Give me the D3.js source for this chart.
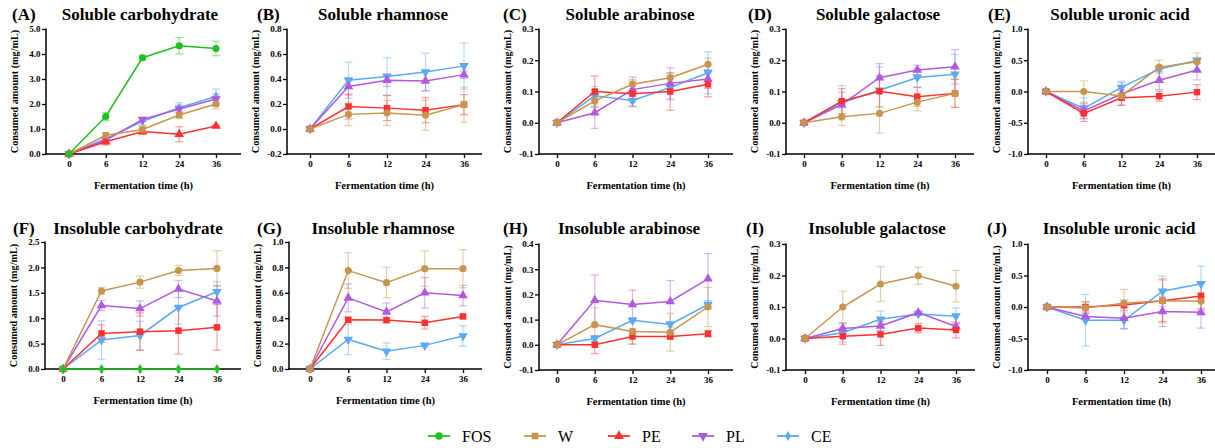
<!DOCTYPE html>
<html><head><meta charset="utf-8">
<script src="https://cdn.jsdelivr.net/npm/d3@7"></script>
<style>body{margin:0;background:#fff} svg{display:block}</style>
</head><body>
<svg id="c" width="1215" height="448"></svg>
<script>
// ---------- DATA ----------
const times = ["0","6","12","24","36"];
const seriesNames = ["FOS","W","PE","PL","CE"];
const panelLetters = ["(A)","(B)","(C)","(D)","(E)","(F)","(G)","(H)","(I)","(J)"];
const panelTitles = ["Soluble carbohydrate","Soluble rhamnose","Soluble arabinose","Soluble galactose","Soluble uronic acid",
  "Insoluble carbohydrate","Insoluble rhamnose","Insoluble arabinose","Insoluble galactose","Insoluble uronic acid"];
const yDomains = [[0,5],[-0.2,0.8],[-0.1,0.3],[-0.1,0.3],[-1,1],[0,2.5],[0,1],[-0.1,0.4],[-0.1,0.3],[-1,1]];
const yTickSteps = [1,0.2,0.1,0.1,0.5,0.5,0.2,0.1,0.1,0.5];

// (A) Soluble carbohydrate
const A_FOS = [0,1.50,3.85,4.33,4.22], A_FOS_sd = [0,0.16,0.10,0.33,0.29];
const A_W   = [0,0.75,0.98,1.56,2.00], A_W_sd   = [0,0.10,0.15,0.15,0.20];
const A_PE  = [0,0.49,0.90,0.79,1.12], A_PE_sd  = [0,0.12,0.12,0.30,0.03];
const A_PL  = [0,0.55,1.38,1.80,2.20], A_PL_sd  = [0,0.10,0.08,0.15,0.20];
const A_CE  = [0,0.61,1.31,1.85,2.30], A_CE_sd  = [0,0.10,0.15,0.20,0.30];
// (B) Soluble rhamnose
const B_W  = [0,0.117,0.128,0.110,0.195], B_W_sd  = [0,0.09,0.10,0.12,0.14];
const B_PE = [0,0.180,0.167,0.150,0.195], B_PE_sd = [0,0.10,0.10,0.10,0.08];
const B_PL = [0,0.340,0.390,0.385,0.435], B_PL_sd = [0,0.07,0.05,0.08,0.03];
const B_CE = [0,0.390,0.420,0.456,0.505], B_CE_sd = [0,0.145,0.15,0.15,0.185];
// (C) Soluble arabinose
const C_W  = [0,0.070,0.123,0.144,0.187], C_W_sd  = [0,0.02,0.015,0.015,0.02];
const C_PE = [0,0.100,0.093,0.100,0.123], C_PE_sd = [0,0.05,0.04,0.06,0.04];
const C_PL = [0,0.032,0.106,0.126,0.140], C_PL_sd = [0,0.05,0.04,0.05,0.03];
const C_CE = [0,0.086,0.071,0.113,0.160], C_CE_sd = [0,0.03,0.02,0.04,0.067];
// (D) Soluble galactose
const D_W  = [0,0.019,0.030,0.066,0.094], D_W_sd  = [0,0.028,0.063,0.028,0.045];
const D_PE = [0,0.069,0.101,0.083,0.094], D_PE_sd = [0,0.04,0.05,0.03,0.045];
const D_PL = [0,0.058,0.144,0.169,0.179], D_PL_sd = [0,0.04,0.045,0.015,0.055];
const D_CE = [0,0.064,0.104,0.145,0.155], D_CE_sd = [0,0.055,0.075,0.03,0.064];
// (E) Soluble uronic acid
const E_W  = [0,0.00,-0.07,0.39,0.475], E_W_sd  = [0,0.17,0.03,0.11,0.14];
const E_PE = [0,-0.35,-0.10,-0.075,-0.01], E_PE_sd = [0,0.13,0.12,0.08,0.12];
const E_PL = [0,-0.31,-0.04,0.18,0.345], E_PL_sd = [0,0.12,0.18,0.15,0.16];
const E_CE = [0,-0.27,0.065,0.36,0.495], E_CE_sd = [0,0.17,0.10,0.05,0.05];
// (F) Insoluble carbohydrate
const F_FOS = [0,0,0,0,0], F_FOS_sd = [0,0,0,0,0];
const F_W  = [0,1.535,1.71,1.94,1.98], F_W_sd  = [0,0.07,0.12,0.10,0.35];
const F_PE = [0,0.70,0.735,0.755,0.82], F_PE_sd = [0,0.17,0.37,0.46,0.45];
const F_PL = [0,1.25,1.19,1.575,1.34], F_PL_sd = [0,0.10,0.15,0.17,0.30];
const F_CE = [0,0.57,0.66,1.21,1.52], F_CE_sd = [0,0.38,0.28,0.33,0.20];
// (G) Insoluble rhamnose
const G_W  = [0,0.775,0.68,0.79,0.79], G_W_sd  = [0,0.14,0.12,0.14,0.15];
const G_PE = [0,0.387,0.385,0.364,0.414], G_PE_sd = [0,0.02,0.02,0.05,0.01];
const G_PL = [0,0.56,0.45,0.60,0.578], G_PL_sd = [0,0.11,0.07,0.12,0.08];
const G_CE = [0,0.233,0.14,0.186,0.26], G_CE_sd = [0,0.12,0.065,0.01,0.08];
// (H) Insoluble arabinose
const H_W  = [0,0.080,0.053,0.050,0.150], H_W_sd  = [0,0.067,0.05,0.075,0.078];
const H_PE = [0,0.000,0.033,0.033,0.044], H_PE_sd = [0,0.035,0.03,0.01,0.013];
const H_PL = [0,0.177,0.160,0.172,0.262], H_PL_sd = [0,0.10,0.057,0.083,0.10];
const H_CE = [0,0.025,0.097,0.081,0.160], H_CE_sd = [0,0.012,0.01,0.01,0.015];
// (I) Insoluble galactose
const I_W  = [0,0.100,0.173,0.199,0.166], I_W_sd  = [0,0.05,0.055,0.027,0.05];
const I_PE = [0,0.007,0.013,0.033,0.027], I_PE_sd = [0,0.025,0.035,0.015,0.025];
const I_PL = [0,0.032,0.040,0.082,0.038], I_PL_sd = [0,0.017,0.015,0.005,0.01];
const I_CE = [0,0.018,0.061,0.078,0.071], I_CE_sd = [0,0.028,0.026,0.005,0.026];
// (J) Insoluble uronic acid
const J_W  = [0,-0.015,0.06,0.10,0.09], J_W_sd  = [0,0.10,0.22,0.35,0.14];
const J_PE = [0,0.00,0.03,0.10,0.175], J_PE_sd = [0,0.08,0.08,0.33,0.20];
const J_PL = [0,-0.15,-0.18,-0.07,-0.085], J_PL_sd = [0,0.05,0.17,0.24,0.25];
const J_CE = [0,-0.21,-0.21,0.25,0.37], J_CE_sd = [0,0.41,0.13,0.24,0.28];

// ---------- STYLE / LAYOUT ----------
const FONT = '"Liberation Serif","Times New Roman",Tinos,serif';
const colors = {FOS:"#1ec21e", W:"#c8954f", PE:"#ff3030", PL:"#b05ae0", CE:"#5aaaf5"};
const legendSymbols = {FOS:d3.symbolCircle, W:d3.symbolSquare, PE:d3.symbolTriangle, PL:"tridown", CE:d3.symbolDiamond};
const panelSymbols = {FOS:d3.symbolDiamond, W:d3.symbolCircle, PE:d3.symbolSquare, PL:d3.symbolTriangle, CE:"tridown"};
// [yAxisX, firstTickX, lastTickX, xAxisEnd, top, bottom]
const boxes = [
  [46,69,216,241,29,154],[287,310,464,482,29,154],[539,557,708,733,29,154],[786,804,955,974,29,154],[1028,1046,1197,1215,29,154],
  [45,63,217,241,242,369],[289,310,463,482,242,369],[539,557,708,733,244,370],[786,805,956,975,244,370],[1028,1047,1201,1215,244,370]];
const titleCenters = [140,383,630,878,1120,138,383,629,877,1119];
const letterX = [12,257,503,748,988,13,257,503,746,987];

const panelData = [
  {FOS:[A_FOS,A_FOS_sd],W:[A_W,A_W_sd],PE:[A_PE,A_PE_sd],PL:[A_PL,A_PL_sd],CE:[A_CE,A_CE_sd]},
  {W:[B_W,B_W_sd],PE:[B_PE,B_PE_sd],PL:[B_PL,B_PL_sd],CE:[B_CE,B_CE_sd]},
  {W:[C_W,C_W_sd],PE:[C_PE,C_PE_sd],PL:[C_PL,C_PL_sd],CE:[C_CE,C_CE_sd]},
  {W:[D_W,D_W_sd],PE:[D_PE,D_PE_sd],PL:[D_PL,D_PL_sd],CE:[D_CE,D_CE_sd]},
  {W:[E_W,E_W_sd],PE:[E_PE,E_PE_sd],PL:[E_PL,E_PL_sd],CE:[E_CE,E_CE_sd]},
  {FOS:[F_FOS,F_FOS_sd],W:[F_W,F_W_sd],PE:[F_PE,F_PE_sd],PL:[F_PL,F_PL_sd],CE:[F_CE,F_CE_sd]},
  {W:[G_W,G_W_sd],PE:[G_PE,G_PE_sd],PL:[G_PL,G_PL_sd],CE:[G_CE,G_CE_sd]},
  {W:[H_W,H_W_sd],PE:[H_PE,H_PE_sd],PL:[H_PL,H_PL_sd],CE:[H_CE,H_CE_sd]},
  {W:[I_W,I_W_sd],PE:[I_PE,I_PE_sd],PL:[I_PL,I_PL_sd],CE:[I_CE,I_CE_sd]},
  {W:[J_W,J_W_sd],PE:[J_PE,J_PE_sd],PL:[J_PL,J_PL_sd],CE:[J_CE,J_CE_sd]}];

const fmt = d3.formatLocale({decimal:".",thousands:",",grouping:[3],currency:["$",""],minus:"-"}).format(".1f");
const svg = d3.select("#c");
function symPath(sym, size){
  return d3.symbol(sym==="tridown"?d3.symbolTriangle:sym, size)();
}
function symTransform(sym){ return sym==="tridown" ? " rotate(180)" : ""; }
function symSize(sym){ return sym===d3.symbolSquare?42: sym===d3.symbolCircle?40: sym===d3.symbolDiamond?30:40; }
function styleText(sel, size, bold){
  sel.style("font-family",FONT).style("font-size",size+"px").style("font-weight",bold?"bold":"normal").attr("fill","#000");
}

const drawOrder = ["CE","PL","PE","W","FOS"];

boxes.forEach((b,i)=>{
  const [ax, x0, x1, xEnd, top, bottom] = b;
  const g = svg.append("g");
  const x = d3.scalePoint().domain(times).range([x0,x1]).padding(0);
  const y = d3.scaleLinear().domain(yDomains[i]).range([bottom,top]);
  const st = yTickSteps[i];
  const n = Math.round((yDomains[i][1]-yDomains[i][0])/st);
  const ticks = d3.range(n+1).map(k=>+(yDomains[i][0]+k*st).toFixed(3));

  // y axis
  const ya = g.append("g").attr("transform",`translate(${ax},0)`)
    .call(d3.axisLeft(y).tickValues(ticks).tickFormat(fmt).tickSize(4).tickSizeOuter(0));
  ya.select(".domain").remove();
  ya.append("line").attr("x1",0).attr("x2",0).attr("y1",top-0.5).attr("y2",bottom+0.75).attr("stroke","#000").attr("stroke-width",1.5);
  ya.selectAll(".tick line").attr("stroke-width",1.3);
  ya.selectAll("text").attr("x",-5.5).call(styleText,9,true);

  // x axis
  const xa = g.append("g").attr("transform",`translate(0,${bottom})`)
    .call(d3.axisBottom(x).tickSize(4).tickSizeOuter(0));
  xa.select(".domain").remove();
  xa.append("line").attr("x1",ax-0.75).attr("x2",xEnd).attr("y1",0).attr("y2",0).attr("stroke","#000").attr("stroke-width",1.5);
  xa.selectAll(".tick line").attr("stroke-width",1.3);
  xa.selectAll("text").attr("y",7).call(styleText,9,true);

  // axis titles
  g.append("text").attr("x",(ax+xEnd)/2).attr("y",bottom+35).attr("text-anchor","middle")
    .call(styleText,10.5,true).text("Fermentation time (h)");
  g.append("text").attr("transform",`translate(${ax-28},${(top+bottom)/2}) rotate(-90)`).attr("text-anchor","middle")
    .call(styleText,10.2,true).text("Consumed amount (mg/mL)");
  // panel titles
  const ty = i<5?20:234;
  g.append("text").attr("x",letterX[i]).attr("y",ty).call(styleText,17,true).text(panelLetters[i]);
  g.append("text").attr("x",titleCenters[i]).attr("y",ty).attr("text-anchor","middle").call(styleText,17,true).text(panelTitles[i]);

  const pd = panelData[i];
  const syms = i===0 ? legendSymbols : panelSymbols;
  // error bars
  drawOrder.filter(s=>pd[s]).forEach(s=>{
    const [m, sd] = pd[s];
    const eg = g.append("g").attr("stroke",colors[s]).attr("stroke-opacity",0.45).attr("stroke-width",1.2);
    times.forEach((t,k)=>{
      if(sd[k]<=0) return;
      const cx = x(t), yl = y(m[k]-sd[k]), yh = y(m[k]+sd[k]);
      eg.append("line").attr("x1",cx).attr("x2",cx).attr("y1",yl).attr("y2",yh);
      eg.append("line").attr("x1",cx-4).attr("x2",cx+4).attr("y1",yl).attr("y2",yl);
      eg.append("line").attr("x1",cx-4).attr("x2",cx+4).attr("y1",yh).attr("y2",yh);
    });
  });
  // lines + markers
  drawOrder.filter(s=>pd[s]).forEach(s=>{
    const [m] = pd[s];
    const line = d3.line().x((d,k)=>x(times[k])).y(d=>y(d));
    g.append("path").attr("d",line(m)).attr("fill","none").attr("stroke",colors[s]).attr("stroke-width",1.5);
    const sym = syms[s];
    g.selectAll(null).data(m).enter().append("path")
      .attr("d",symPath(sym, symSize(sym)))
      .attr("transform",(d,k)=>`translate(${x(times[k])},${y(d)})${symTransform(sym)}`)
      .attr("fill",colors[s]);
  });
});

// legend
const legendX = [428,524,608,692,777];
const lg = svg.append("g");
seriesNames.forEach((s,k)=>{
  const lx = legendX[k], ly = 436;
  lg.append("line").attr("x1",lx).attr("x2",lx+22).attr("y1",ly).attr("y2",ly).attr("stroke",colors[s]).attr("stroke-width",1.8);
  const sym = legendSymbols[s];
  lg.append("path").attr("d",symPath(sym, sym===d3.symbolDiamond?30:44)).attr("transform",`translate(${lx+11},${ly})${symTransform(sym)}`).attr("fill",colors[s]);
  lg.append("text").attr("x",lx+34).attr("y",ly+6).call(styleText,16,false).text(s);
});
</script>
</body></html>
